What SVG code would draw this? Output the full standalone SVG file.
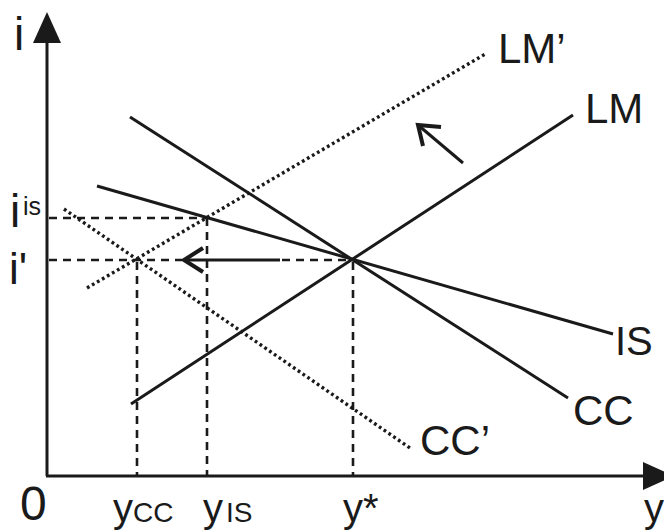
<svg xmlns="http://www.w3.org/2000/svg" width="664" height="531" viewBox="0 0 664 531">
<style>
.t{font-family:"Liberation Sans",Arial,sans-serif;fill:#1a1a1a}
.solid{stroke:#1a1a1a;stroke-width:3;fill:none}
.dash{stroke:#1a1a1a;stroke-width:2.6;stroke-dasharray:8 6;fill:none}
.dot{stroke:#1a1a1a;stroke-width:3.4;stroke-dasharray:2.8 3;fill:none}
.chev{stroke:#1a1a1a;stroke-width:4;fill:none;stroke-linejoin:miter}
</style>
<rect width="664" height="531" fill="#fff"/>
<g id="axes">
<line class="solid" x1="47" y1="476" x2="47" y2="40"/>
<polygon points="47,12 33,43 61,43" fill="#1a1a1a"/>
<line class="solid" x1="46" y1="476" x2="646" y2="476"/>
<polygon points="674,476 643,462 643,490" fill="#1a1a1a"/>
</g>
<g id="guides">
<line class="dash" x1="49" y1="218" x2="207" y2="218"/>
<line class="dash" x1="207" y1="218" x2="207" y2="476"/>
<line class="dash" x1="49" y1="260" x2="182" y2="260"/>
<line class="dash" x1="282" y1="260" x2="353" y2="260"/>
<line class="dash" x1="353" y1="262" x2="353" y2="476"/>
<line class="dash" x1="137" y1="262" x2="137" y2="476"/>
</g>
<g id="curves">
<line id="LMp" class="dot" x1="87" y1="288" x2="487" y2="53"/>
<line id="CCp" class="dot" x1="64" y1="209" x2="410" y2="448"/>
<line id="LM" class="solid" x1="131" y1="404" x2="573" y2="115"/>
<line id="IS" class="solid" x1="97" y1="186" x2="613" y2="334"/>
<line id="CC" class="solid" x1="130" y1="117" x2="568" y2="398"/>
</g>
<g id="arrows">
<line class="solid" x1="184" y1="260" x2="280" y2="260"/>
<polyline class="chev" points="203,248 184,260 203,272"/>
<line class="solid" x1="463" y1="163" x2="418" y2="125"/>
<polyline class="chev" points="441,127 418,125 423,146"/>
</g>
<g id="labels">
<text class="t" x="14" y="50" font-size="46">i</text>
<text class="t" x="10" y="227" font-size="46">i</text>
<text class="t" x="23" y="215" font-size="25">is</text>
<text class="t" x="9" y="284" font-size="44">i'</text>
<text class="t" x="498" y="63" font-size="42">LM’</text>
<text class="t" x="585" y="123" font-size="42">LM</text>
<text class="t" x="615" y="355" font-size="40">IS</text>
<text class="t" x="573" y="425" font-size="42">CC</text>
<text class="t" x="420" y="455" font-size="42">CC’</text>
<text class="t" x="20" y="520" font-size="48">0</text>
<text class="t" x="113" y="522" font-size="40">y</text>
<text class="t" x="133" y="522" font-size="28">CC</text>
<text class="t" x="203" y="522" font-size="40">y</text>
<text class="t" x="226" y="522" font-size="28">IS</text>
<text class="t" x="343" y="522" font-size="40">y*</text>
<text class="t" x="644" y="522" font-size="40">y</text>
</g>
</svg>
